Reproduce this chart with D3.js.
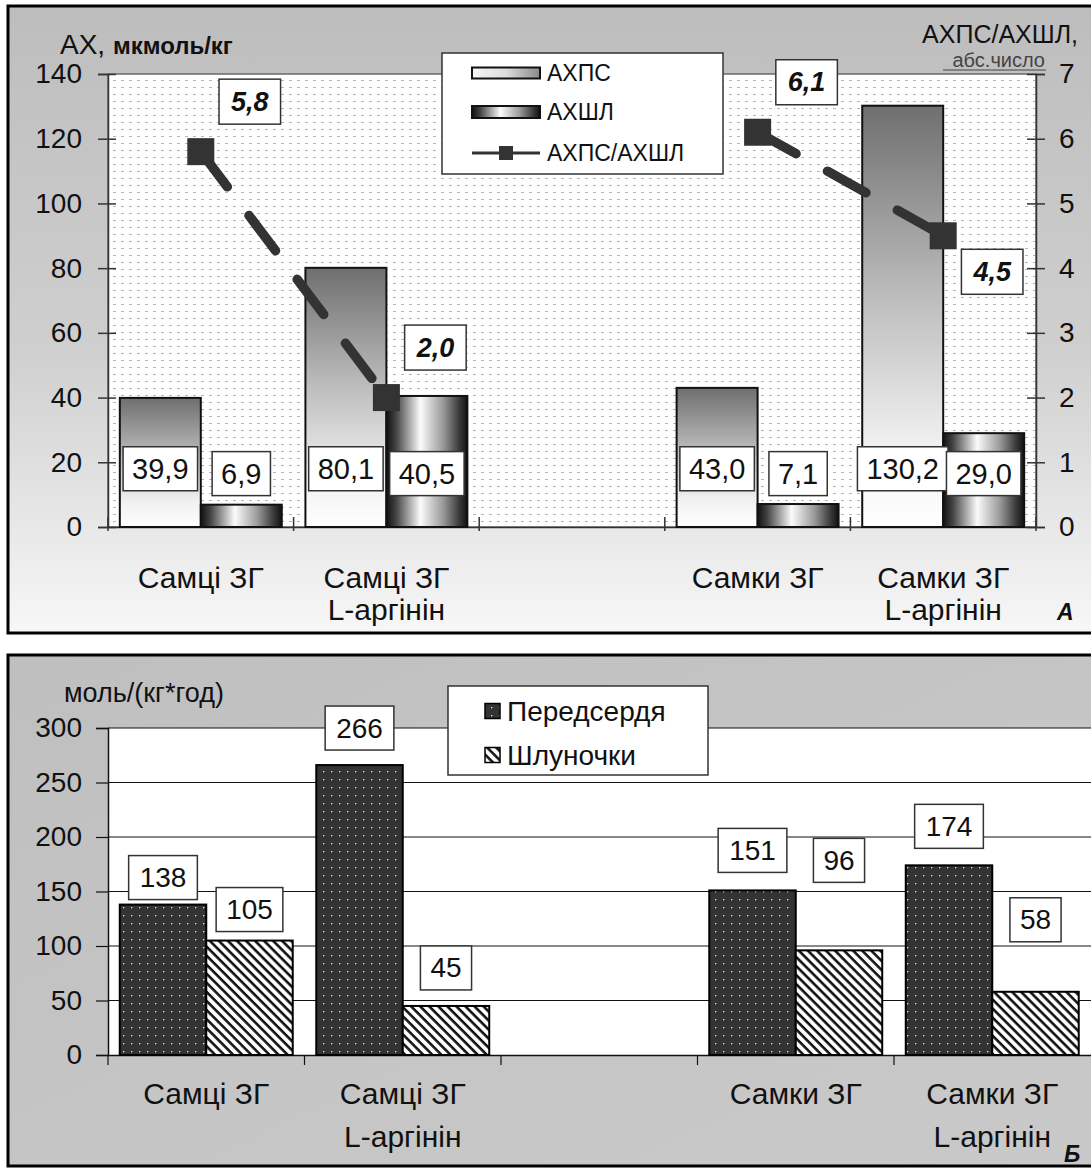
<!DOCTYPE html>
<html>
<head>
<meta charset="utf-8">
<script src="https://cdn.jsdelivr.net/npm/d3@7"></script>
<style>
  html, body { margin: 0; padding: 0; background: #ffffff; }
  svg { display: block; font-family: "Liberation Sans", Arial, sans-serif; }
</style>
</head>
<body>
<svg id="chart" width="1091" height="1169"></svg>
<script>
// ---------------- DATA ----------------
const categories = ["Самці ЗГ", "Самці ЗГ\nL-аргінін", "", "Самки ЗГ", "Самки ЗГ\nL-аргінін"];

// Panel A
const axpsValues = [39.9, 80.1, null, 43.0, 130.2];       // АХПС, мкмоль/кг
const axshlValues = [6.9, 40.5, null, 7.1, 29.0];         // АХШЛ, мкмоль/кг
const ratioValues = [5.8, 2.0, null, 6.1, 4.5];           // АХПС/АХШЛ
const topLeftTicks = [0, 20, 40, 60, 80, 100, 120, 140];
const topRightTicks = [0, 1, 2, 3, 4, 5, 6, 7];
const topSeriesNames = ["АХПС", "АХШЛ", "АХПС/АХШЛ"];

// Panel Б
const atriaValues = [138, 266, null, 151, 174];           // Передсердя
const ventricleValues = [105, 45, null, 96, 58];          // Шлуночки
const bottomTicks = [0, 50, 100, 150, 200, 250, 300];
const bottomSeriesNames = ["Передсердя", "Шлуночки"];

// label lift above bar tops (px), panel Б
const atriaLabelLift = [27, 37, null, 40, 39];
const ventricleLabelLift = [31, 38, null, 90, 72];

// ---------------- DRAW ----------------
const svg = d3.select("#chart");
const defs = svg.append("defs");
const FONT = "'Liberation Sans', Arial, sans-serif";

function linGrad(id, x1, y1, x2, y2, stops) {
  const g = defs.append("linearGradient").attr("id", id)
    .attr("x1", x1).attr("y1", y1).attr("x2", x2).attr("y2", y2);
  stops.forEach(s => g.append("stop").attr("offset", s[0]).attr("stop-color", s[1]));
}
linGrad("panelTop", 0, 0, 0, 1, [[0, "#bdbdbd"], [0.55, "#cfcfcf"], [1, "#f7f7f7"]]);
linGrad("panelBot", 0, 0, 1, 1, [[0, "#bfbfbf"], [0.6, "#c6c6c6"], [1, "#c9c9c9"]]);
linGrad("gradAXPS", 0, 0, 0, 1, [[0, "#6f6f6f"], [0.45, "#bcbcbc"], [0.8, "#f0f0f0"], [1, "#ffffff"]]);
linGrad("gradAXSHL", 0, 0, 1, 0, [[0, "#111"], [0.12, "#444"], [0.42, "#fbfbfb"], [0.7, "#9a9a9a"], [0.9, "#3a3a3a"], [1, "#111"]]);
linGrad("gradAXPSleg", 0, 0, 1, 0, [[0, "#f4f4f4"], [0.5, "#dddddd"], [1, "#8a8a8a"]]);

const pDots = defs.append("pattern").attr("id", "plotDots").attr("patternUnits", "userSpaceOnUse")
  .attr("width", 8).attr("height", 7);
pDots.append("rect").attr("width", 8).attr("height", 7).attr("fill", "#ffffff");
pDots.append("rect").attr("x", 1).attr("y", 3).attr("width", 3).attr("height", 1).attr("fill", "#b5b5b5");

const pAtria = defs.append("pattern").attr("id", "atriaPat").attr("patternUnits", "userSpaceOnUse")
  .attr("width", 8).attr("height", 8);
pAtria.append("rect").attr("width", 8).attr("height", 8).attr("fill", "#333333");
pAtria.append("rect").attr("x", 3).attr("y", 3).attr("width", 1.3).attr("height", 1.3).attr("fill", "#e8e8e8");

const pVent = defs.append("pattern").attr("id", "ventPat").attr("patternUnits", "userSpaceOnUse")
  .attr("width", 6.4).attr("height", 6.4).attr("patternTransform", "rotate(-45)");
pVent.append("rect").attr("width", 6.4).attr("height", 6.4).attr("fill", "#ffffff");
pVent.append("line").attr("x1", 1.5).attr("y1", 0).attr("x2", 1.5).attr("y2", 6.4)
  .attr("stroke", "#111").attr("stroke-width", 2.6);

// ================= PANEL A =================
const A = { left: 108, right: 1036, top: 74, bottom: 527 };
svg.append("rect").attr("x", 8).attr("y", 6).attr("width", 1110).attr("height", 627)
  .attr("fill", "url(#panelTop)").attr("stroke", "#000").attr("stroke-width", 3);

const xA = d3.scaleBand().domain(d3.range(categories.length)).range([A.left, A.right]).padding(0);
const xAin = d3.scaleBand().domain([0, 1]).range([0, xA.bandwidth()]).paddingInner(0).paddingOuter(0.146);
const yL = d3.scaleLinear().domain([0, 140]).range([A.bottom, A.top]);
const yR = d3.scaleLinear().domain([0, 7]).range([A.bottom, A.top]);

svg.append("rect").attr("x", A.left).attr("y", A.top).attr("width", A.right - A.left)
  .attr("height", A.bottom - A.top).attr("fill", "url(#plotDots)")
  .attr("stroke", "#6a6a6a").attr("stroke-width", 1.5);

const axL = svg.append("g").attr("transform", `translate(${A.left},0)`)
  .call(d3.axisLeft(yL).tickValues(topLeftTicks).tickFormat(d3.format("d")).tickSize(10).tickPadding(16));
const axR = svg.append("g").attr("transform", `translate(${A.right},0)`)
  .call(d3.axisRight(yR).tickValues(topRightTicks).tickFormat(d3.format("d")).tickSize(9).tickPadding(14));
const axB = svg.append("g").attr("transform", `translate(0,${A.bottom})`)
  .call(d3.axisBottom(xA).tickValues([]).tickSizeOuter(0));
[axL, axR].forEach(g => {
  g.select(".domain").attr("stroke", "#333").attr("stroke-width", 1.5);
  g.selectAll(".tick line").attr("stroke", "#333").attr("stroke-width", 1.5);
  g.selectAll("text").attr("font-family", FONT).attr("font-size", 28).attr("fill", "#111");
});
axL.selectAll(".tick line").attr("x2", 8).attr("x1", -10);
axR.selectAll(".tick line").attr("x1", -9).attr("x2", 9);
axB.select(".domain").attr("stroke", "#333").attr("stroke-width", 1.5);
svg.append("g").selectAll("line").data(d3.range(categories.length + 1)).join("line")
  .attr("x1", i => A.left + i * xA.step()).attr("x2", i => A.left + i * xA.step())
  .attr("y1", A.bottom - 10).attr("y2", A.bottom + 4).attr("stroke", "#333").attr("stroke-width", 1.5);

const gA = svg.append("g");
categories.forEach((c, i) => {
  if (axpsValues[i] != null) {
    gA.append("rect").attr("x", xA(i) + xAin(0)).attr("width", xAin.bandwidth())
      .attr("y", yL(axpsValues[i])).attr("height", yL(0) - yL(axpsValues[i]))
      .attr("fill", "url(#gradAXPS)").attr("stroke", "#111").attr("stroke-width", 2);
  }
  if (axshlValues[i] != null) {
    gA.append("rect").attr("x", xA(i) + xAin(1)).attr("width", xAin.bandwidth())
      .attr("y", yL(axshlValues[i])).attr("height", yL(0) - yL(axshlValues[i]))
      .attr("fill", "url(#gradAXSHL)").attr("stroke", "#111").attr("stroke-width", 2);
  }
});

function boxLabel(g, cx, cy, text, opts) {
  const t = g.append("text").attr("x", cx).attr("y", cy).attr("text-anchor", "middle")
    .attr("dominant-baseline", "central").attr("font-family", FONT)
    .attr("font-size", opts.size).attr("fill", "#111").text(text);
  if (opts.bold) t.attr("font-weight", "bold");
  if (opts.italic) t.attr("font-style", "italic");
  const w = t.node().getComputedTextLength() + 2 * opts.padX;
  g.insert("rect", () => t.node()).attr("x", cx - w / 2).attr("y", cy - opts.h / 2)
    .attr("width", w).attr("height", opts.h).attr("fill", "#fff")
    .attr("stroke", "#333").attr("stroke-width", 1.5);
}
const fmt = v => v.toFixed(1).replace(".", ",");

const labA = svg.append("g");
categories.forEach((c, i) => {
  if (axpsValues[i] != null)
    boxLabel(labA, xA(i) + xAin(0) + xAin.bandwidth() / 2, yL(18), fmt(axpsValues[i]), { size: 29, padX: 9, h: 44 });
  if (axshlValues[i] != null)
    boxLabel(labA, xA(i) + xAin(1) + xAin.bandwidth() / 2, yL(16.5), fmt(axshlValues[i]), { size: 29, padX: 9, h: 44 });
});

const ratioPts = ratioValues.map((v, i) => ({ i, v }));
const line = d3.line().defined(d => d.v != null)
  .x(d => xA(d.i) + xA.bandwidth() / 2).y(d => yR(d.v));
svg.append("path").datum(ratioPts).attr("d", line).attr("fill", "none")
  .attr("stroke", "#333").attr("stroke-width", 9.5).attr("stroke-linecap", "round")
  .attr("stroke-dasharray", "44,36");
svg.append("g").selectAll("rect").data(ratioPts.filter(d => d.v != null)).join("rect")
  .attr("x", d => xA(d.i) + xA.bandwidth() / 2 - 13.5).attr("y", d => yR(d.v) - 13.5)
  .attr("width", 27).attr("height", 27).attr("fill", "#333");
const labR = svg.append("g");
const lastRatio = d3.max(ratioPts.filter(d => d.v != null), d => d.i);
ratioPts.filter(d => d.v != null).forEach(d => {
  const cx = xA(d.i) + xA.bandwidth() / 2 + 49;
  const cy = d.i === lastRatio ? yR(d.v) + 36 : yR(d.v) - 50;
  boxLabel(labR, cx, cy, fmt(d.v), { size: 27, padX: 12, h: 45, bold: true, italic: true });
});

function catLabels(xs, base, lh, size) {
  categories.forEach((c, i) => {
    c.split("\n").forEach((ln, k) => {
      svg.append("text").attr("x", xs(i) + xs.bandwidth() / 2).attr("y", base + k * lh)
        .attr("text-anchor", "middle").attr("font-family", FONT).attr("font-size", size)
        .attr("fill", "#111").text(ln);
    });
  });
}
catLabels(xA, 588, 32, 30);

svg.append("text").attr("x", 60).attr("y", 54).attr("font-family", FONT).attr("fill", "#111")
  .call(t => {
    t.append("tspan").attr("font-size", 28).text("АХ, ");
    t.append("tspan").attr("font-size", 24).attr("font-weight", "bold").text("мкмоль/кг");
  });
svg.append("text").attr("x", 1078).attr("y", 43).attr("text-anchor", "end").attr("font-family", FONT)
  .attr("font-size", 25).attr("fill", "#111").text("АХПС/АХШЛ,");
svg.append("text").attr("x", 1045).attr("y", 67).attr("text-anchor", "end").attr("font-family", FONT)
  .attr("font-size", 20).attr("fill", "#444").text("абс.число");
svg.append("line").attr("x1", 943).attr("x2", 1046).attr("y1", 70).attr("y2", 70).attr("stroke", "#444").attr("stroke-width", 1);
svg.append("text").attr("x", 1057).attr("y", 620).attr("font-family", FONT).attr("font-size", 23)
  .attr("font-weight", "bold").attr("font-style", "italic").attr("fill", "#111").text("А");

const legA = svg.append("g");
legA.append("rect").attr("x", 442).attr("y", 53).attr("width", 281).attr("height", 121)
  .attr("fill", "#fff").attr("stroke", "#333").attr("stroke-width", 1.5);
const legAy = [73, 112, 153];
legA.append("rect").attr("x", 472).attr("y", legAy[0] - 5.5).attr("width", 68).attr("height", 11)
  .attr("fill", "url(#gradAXPSleg)").attr("stroke", "#111").attr("stroke-width", 2);
legA.append("rect").attr("x", 472).attr("y", legAy[1] - 6).attr("width", 68).attr("height", 12)
  .attr("fill", "url(#gradAXSHL)").attr("stroke", "#111").attr("stroke-width", 2);
legA.append("line").attr("x1", 472).attr("x2", 540).attr("y1", legAy[2]).attr("y2", legAy[2])
  .attr("stroke", "#333").attr("stroke-width", 3);
legA.append("rect").attr("x", 499).attr("y", legAy[2] - 7).attr("width", 14).attr("height", 14).attr("fill", "#333");
topSeriesNames.forEach((n, k) => {
  legA.append("text").attr("x", 547).attr("y", legAy[k]).attr("dominant-baseline", "central")
    .attr("font-family", FONT).attr("font-size", 23).attr("fill", "#111").text(n);
});

// ================= PANEL Б =================
const B = { left: 108, right: 1090.5, top: 728, bottom: 1055 };
svg.append("rect").attr("x", 8).attr("y", 655).attr("width", 1110).attr("height", 511)
  .attr("fill", "url(#panelBot)").attr("stroke", "#000").attr("stroke-width", 3);

const xB = d3.scaleBand().domain(d3.range(categories.length)).range([B.left, B.right]).padding(0);
const xBin = d3.scaleBand().domain([0, 1]).range([0, xB.bandwidth()]).paddingInner(0).paddingOuter(0.136);
const yB = d3.scaleLinear().domain([0, 300]).range([B.bottom, B.top]);

svg.append("rect").attr("x", B.left).attr("y", B.top).attr("width", 1091 - B.left)
  .attr("height", B.bottom - B.top).attr("fill", "#fff");
svg.append("g").selectAll("line").data(bottomTicks.filter(t => t > 0)).join("line")
  .attr("x1", B.left).attr("x2", 1091).attr("y1", d => yB(d)).attr("y2", d => yB(d))
  .attr("stroke", "#111").attr("stroke-width", 1);

const bxL = svg.append("g").attr("transform", `translate(${B.left},0)`)
  .call(d3.axisLeft(yB).tickValues(bottomTicks).tickSize(12).tickPadding(14));
bxL.select(".domain").attr("stroke", "#111").attr("stroke-width", 1.5);
bxL.selectAll(".tick line").attr("stroke", "#111").attr("stroke-width", 1.2);
bxL.selectAll("text").attr("font-family", FONT).attr("font-size", 28).attr("fill", "#111");
const bxB = svg.append("g").attr("transform", `translate(0,${B.bottom})`)
  .call(d3.axisBottom(xB).tickValues([]).tickSizeOuter(0));
bxB.select(".domain").attr("stroke", "#111").attr("stroke-width", 1.5);
svg.append("g").selectAll("line").data(d3.range(categories.length)).join("line")
  .attr("x1", i => B.left + i * xB.step()).attr("x2", i => B.left + i * xB.step())
  .attr("y1", B.bottom).attr("y2", B.bottom + 10).attr("stroke", "#111").attr("stroke-width", 1.2);

const gB = svg.append("g");
categories.forEach((c, i) => {
  if (atriaValues[i] != null)
    gB.append("rect").attr("x", xB(i) + xBin(0)).attr("width", xBin.bandwidth())
      .attr("y", yB(atriaValues[i])).attr("height", yB(0) - yB(atriaValues[i]))
      .attr("fill", "url(#atriaPat)").attr("stroke", "#000").attr("stroke-width", 2);
  if (ventricleValues[i] != null)
    gB.append("rect").attr("x", xB(i) + xBin(1)).attr("width", xBin.bandwidth())
      .attr("y", yB(ventricleValues[i])).attr("height", yB(0) - yB(ventricleValues[i]))
      .attr("fill", "url(#ventPat)").attr("stroke", "#000").attr("stroke-width", 2);
});

const legB = svg.append("g");
legB.append("rect").attr("x", 448).attr("y", 686).attr("width", 260).attr("height", 89)
  .attr("fill", "#fff").attr("stroke", "#333").attr("stroke-width", 1.5);
const legBy = [711, 755];
legB.append("rect").attr("x", 485).attr("y", legBy[0] - 7.5).attr("width", 15).attr("height", 15)
  .attr("fill", "url(#atriaPat)").attr("stroke", "#000").attr("stroke-width", 1.5);
legB.append("rect").attr("x", 485).attr("y", legBy[1] - 7.5).attr("width", 15).attr("height", 15)
  .attr("fill", "url(#ventPat)").attr("stroke", "#000").attr("stroke-width", 1.5);
bottomSeriesNames.forEach((n, k) => {
  legB.append("text").attr("x", 507).attr("y", legBy[k]).attr("dominant-baseline", "central")
    .attr("font-family", FONT).attr("font-size", 28).attr("fill", "#111").text(n);
});

const labB = svg.append("g");
categories.forEach((c, i) => {
  if (atriaValues[i] != null)
    boxLabel(labB, xB(i) + xBin(0) + xBin.bandwidth() / 2, yB(atriaValues[i]) - atriaLabelLift[i],
      String(atriaValues[i]), { size: 28, padX: 11, h: 44 });
  if (ventricleValues[i] != null)
    boxLabel(labB, xB(i) + xBin(1) + xBin.bandwidth() / 2, yB(ventricleValues[i]) - ventricleLabelLift[i],
      String(ventricleValues[i]), { size: 28, padX: 10, h: 44 });
});

catLabels(xB, 1104, 43, 30);

svg.append("text").attr("x", 64).attr("y", 702).attr("font-family", FONT).attr("font-size", 27)
  .attr("fill", "#111").text("моль/(кг*год)");
svg.append("text").attr("x", 1064).attr("y", 1162).attr("font-family", FONT).attr("font-size", 23)
  .attr("font-weight", "bold").attr("font-style", "italic").attr("fill", "#111").text("Б");
</script>
</body>
</html>
